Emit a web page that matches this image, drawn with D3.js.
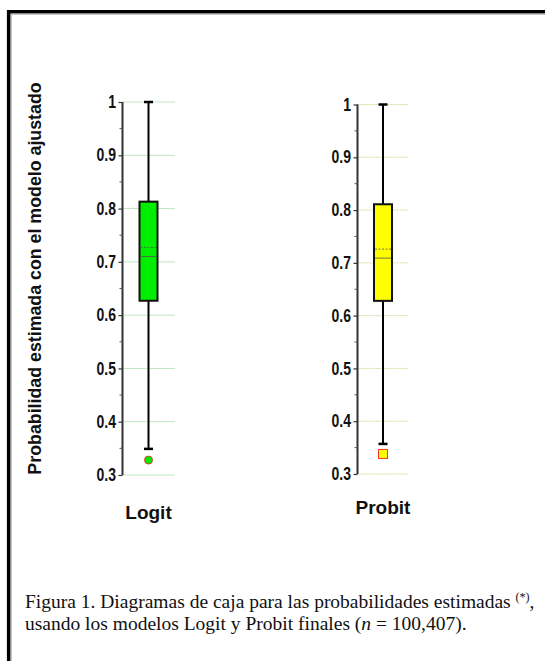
<!DOCTYPE html>
<html>
<head>
<meta charset="utf-8">
<script src="https://cdn.jsdelivr.net/npm/d3@7"></script>
<style>
  body { margin: 0; background: #fff; }
  svg { display: block; }
</style>
</head>
<body>
<div id="plot"></div>
<script>
// Box-plot summaries
const models = ["Logit", "Probit"];
const whiskerHigh = [1.0, 1.0];
const q3 = [0.813, 0.811];
const means = [0.727, 0.726];
const medians = [0.710, 0.709];
const q1 = [0.627, 0.628];
const whiskerLow = [0.349, 0.357];
const outliers = [0.328, 0.338];
const tickValues = [0.3, 0.4, 0.5, 0.6, 0.7, 0.8, 0.9, 1];
const minorTicks = [0.35, 0.45, 0.55, 0.65, 0.75, 0.85, 0.95];

const width = 545, height = 661;

// each model has its own little panel
const panels = [
    { axisX: 122.5, boxX: 148.5, gridEnd: 175, top: 102, bottom: 475, grid: "#bfe6bf", dash: null,
      fill: "#00ee00", outlier: "circle", labelY: 519 },
    { axisX: 357.5, boxX: 383, gridEnd: 408, top: 104.5, bottom: 474, grid: "#d3dd9a", dash: "2,1",
      fill: "#ffff00", outlier: "square", labelY: 514 }
];

const svg = d3.select("#plot")
    .append("svg")
    .attr("width", width)
    .attr("height", height);

// frame around the figure
svg.append("path")
    .attr("d", `M8.7,${height} V11.8 H${width}`)
    .attr("fill", "none")
    .attr("stroke", "#000")
    .attr("stroke-width", 3.6);
svg.append("path")
    .attr("d", `M11.2,${height} V14.2 H${width}`)
    .attr("fill", "none")
    .attr("stroke", "#aaa")
    .attr("stroke-width", 1);

const sans = "Arial, 'Liberation Sans', sans-serif";

models.forEach((m, i) => {
    const p = panels[i];
    const y = d3.scaleLinear().domain([0.3, 1]).range([p.bottom, p.top]);
    const g = svg.append("g");

    // gridlines
    g.selectAll("line.grid")
        .data(tickValues)
        .enter()
        .append("line")
        .attr("x1", p.axisX)
        .attr("x2", p.gridEnd)
        .attr("y1", d => y(d))
        .attr("y2", d => y(d))
        .attr("stroke", p.grid)
        .attr("stroke-width", 1)
        .attr("stroke-dasharray", p.dash);

    // axis with major ticks
    const axis = d3.axisLeft(y)
        .tickValues(tickValues)
        .tickSize(4)
        .tickPadding(2.5)
        .tickFormat(d => d === 1 ? "1" : d.toFixed(1));
    const ax = g.append("g")
        .attr("transform", `translate(${p.axisX},0)`)
        .call(axis);
    ax.select(".domain")
        .attr("d", `M0,${y(1)}V${y(0.3)}`)
        .attr("stroke", "#333")
        .attr("stroke-width", 2);
    ax.selectAll(".tick line").attr("stroke", "#333").attr("stroke-width", 1.2);
    // labels in the figure are a bit stretched vertically
    ax.selectAll(".tick text")
        .attr("font-family", sans)
        .attr("font-weight", "bold")
        .attr("font-size", "14px")
        .attr("transform", "scale(1,1.25)")
        .attr("fill", "#111");

    // minor ticks
    g.selectAll("line.minor")
        .data(minorTicks)
        .enter()
        .append("line")
        .attr("x1", p.axisX - 3)
        .attr("x2", p.axisX)
        .attr("y1", d => y(d))
        .attr("y2", d => y(d))
        .attr("stroke", "#555")
        .attr("stroke-width", 1);

    const bw = 18;
    // whiskers
    g.append("line")
        .attr("x1", p.boxX).attr("x2", p.boxX)
        .attr("y1", y(whiskerHigh[i])).attr("y2", y(whiskerLow[i]))
        .attr("stroke", "#000").attr("stroke-width", 2);
    [whiskerHigh[i], whiskerLow[i]].forEach(v => {
        g.append("line")
            .attr("x1", p.boxX - 4.5).attr("x2", p.boxX + 4.5)
            .attr("y1", y(v)).attr("y2", y(v))
            .attr("stroke", "#000").attr("stroke-width", 2.5);
    });

    // box
    g.append("rect")
        .attr("x", p.boxX - bw / 2)
        .attr("y", y(q3[i]))
        .attr("width", bw)
        .attr("height", y(q1[i]) - y(q3[i]))
        .attr("fill", p.fill)
        .attr("stroke", "#111")
        .attr("stroke-width", 2);
    // median and mean
    g.append("line")
        .attr("x1", p.boxX - bw / 2 + 1).attr("x2", p.boxX + bw / 2 - 1)
        .attr("y1", y(medians[i])).attr("y2", y(medians[i]))
        .attr("stroke", "#555").attr("stroke-width", 0.8);
    g.append("line")
        .attr("x1", p.boxX - bw / 2 + 1).attr("x2", p.boxX + bw / 2 - 1)
        .attr("y1", y(means[i])).attr("y2", y(means[i]))
        .attr("stroke", "#555").attr("stroke-width", 0.8)
        .attr("stroke-dasharray", "2,1.5");

    // outlier
    if (p.outlier === "circle") {
        g.append("circle")
            .attr("cx", p.boxX).attr("cy", y(outliers[i])).attr("r", 4)
            .attr("fill", p.fill).attr("stroke", "#ff3030").attr("stroke-width", 1);
    } else {
        g.append("rect")
            .attr("x", p.boxX - 4.5).attr("y", y(outliers[i]) - 4.5)
            .attr("width", 9).attr("height", 9)
            .attr("fill", p.fill).attr("stroke", "#ff3030").attr("stroke-width", 1);
    }

    // category label
    g.append("text")
        .attr("x", p.boxX)
        .attr("y", p.labelY)
        .attr("text-anchor", "middle")
        .attr("font-family", sans)
        .attr("font-weight", "bold")
        .attr("font-size", "19px")
        .attr("fill", "#111")
        .text(m);
});

// y axis title
svg.append("text")
    .attr("transform", "translate(41,278.5) rotate(-90)")
    .attr("text-anchor", "middle")
    .attr("font-family", sans)
    .attr("font-weight", "bold")
    .attr("font-size", "17.8px")
    .attr("fill", "#111")
    .text("Probabilidad estimada con el modelo ajustado");

// caption
const cap = svg.append("text")
    .attr("font-family", "'Times New Roman', 'Liberation Serif', serif")
    .attr("font-size", "19.5px")
    .attr("fill", "#111");
const l1 = cap.append("tspan").attr("x", 25).attr("y", 608);
l1.append("tspan").text("Figura 1. Diagramas de caja para las probabilidades estimadas ");
l1.append("tspan").attr("font-size", "12px").attr("dy", -7).text("(*)");
l1.append("tspan").attr("dy", 7).text(",");
const l2 = cap.append("tspan").attr("x", 25).attr("y", 630);
l2.append("tspan").text("usando los modelos Logit y Probit finales (");
l2.append("tspan").attr("font-style", "italic").text("n");
l2.append("tspan").text(" = 100,407).");
</script>
</body>
</html>
